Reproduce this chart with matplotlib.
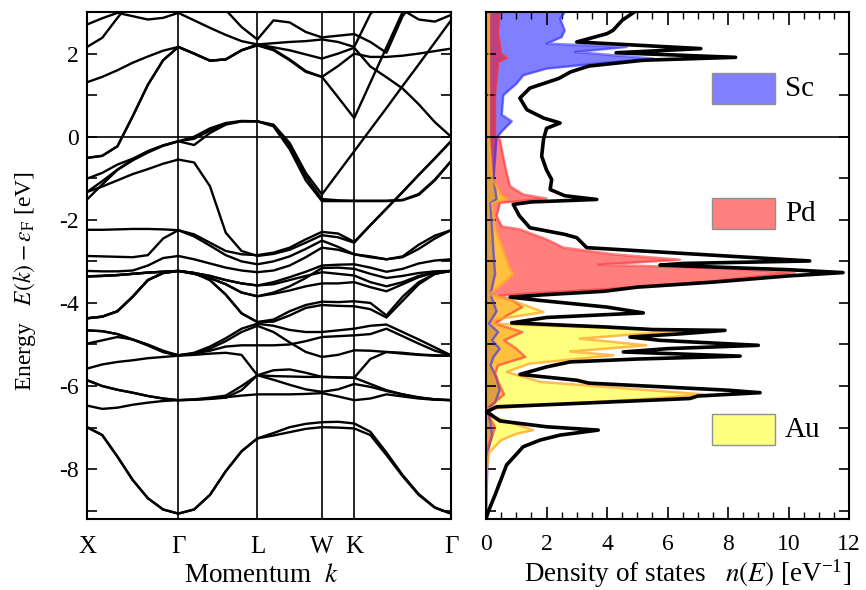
import numpy as np
import matplotlib
matplotlib.use("Agg")
import matplotlib.pyplot as plt
import matplotlib.ticker as ticker
from matplotlib.patches import Rectangle

plt.rcParams["font.family"] = ["Liberation Serif", "DejaVu Serif"]
plt.rcParams["mathtext.fontset"] = "stix"
plt.rcParams["axes.unicode_minus"] = False

# k-path X-G-L-W-K-G (fcc, units of 2pi/a) and samples per segment
SEG_LENGTHS = [1.0, np.sqrt(3) / 2, np.sqrt(2) / 2, np.sqrt(2) / 4, 3 * np.sqrt(2) / 4]
SEG_SAMPLES = [6, 5, 4, 2, 6]
KPOINT_LABELS = ["X", "Γ", "L", "W", "K", "Γ"]

# band energies [eV] at the sampled k-points
BANDS_LOW = [
    [-6.99, -7.18, -7.70, -8.26, -8.70, -8.97, -9.07, -8.97, -8.62, -8.05, -7.57, -7.26,
     -7.19, -7.11, -7.03, -6.99, -7.00, -7.02, -7.18, -7.66, -8.17, -8.62, -8.93, -9.07],
    [-6.99, -7.18, -7.70, -8.26, -8.70, -8.97, -9.07, -8.97, -8.62, -8.05, -7.57, -7.26,
     -7.13, -6.99, -6.91, -6.87, -6.86, -6.90, -7.10, -7.60, -8.14, -8.60, -8.92, -9.07],
]
BANDS_SEMICORE = [
    [-6.47, -6.55, -6.52, -6.45, -6.40, -6.36, -6.34, -6.33, -6.30, -6.27, -6.23, -6.20,
     -6.20, -6.20, -6.19, -6.17, -6.25, -6.34, -6.30, -6.20, -6.25, -6.30, -6.33, -6.34],
    [-5.86, -6.00, -6.09, -6.16, -6.24, -6.30, -6.34, -6.32, -6.28, -6.23, -6.00, -5.74,
     -5.85, -5.97, -6.08, -6.14, -6.08, -5.95, -6.02, -6.12, -6.20, -6.27, -6.32, -6.34],
    [-5.58, -5.48, -5.42, -5.38, -5.33, -5.30, -5.27, -5.25, -5.22, -5.20, -5.25, -5.74,
     -5.62, -5.60, -5.68, -5.78, -5.79, -5.80, -5.35, -5.18, -5.20, -5.24, -5.26, -5.27],
    [-5.86, -6.00, -6.09, -6.16, -6.24, -6.30, -6.34, -6.33, -6.31, -6.28, -6.10, -5.74,
     -5.76, -5.77, -5.78, -5.78, -5.79, -5.80, -5.95, -6.10, -6.20, -6.28, -6.32, -6.34],
    [-4.66, -4.68, -4.75, -4.88, -5.02, -5.18, -5.26, -5.20, -5.05, -4.85, -4.62, -4.50,
     -4.55, -4.65, -4.70, -4.70, -4.66, -4.62, -4.55, -4.52, -4.70, -4.88, -5.07, -5.26],
    [-4.98, -4.90, -4.82, -4.88, -5.00, -5.15, -5.26, -5.22, -5.10, -4.92, -4.70, -4.55,
     -4.70, -4.95, -5.18, -5.30, -5.25, -5.14, -5.15, -5.18, -5.22, -5.25, -5.27, -5.27],
    [-4.66, -4.68, -4.75, -4.88, -5.02, -5.18, -5.26, -5.22, -5.15, -5.05, -5.02, -5.02,
     -5.02, -5.00, -4.92, -4.82, -4.80, -4.78, -4.75, -4.62, -4.80, -4.98, -5.15, -5.26],
]
BANDS_D = [
    [-2.24, -2.24, -2.23, -2.22, -2.22, -2.23, -2.25, -2.35, -2.55, -2.75, -2.83, -2.85,
     -2.79, -2.67, -2.47, -2.29, -2.33, -2.53, -2.13, -1.73, -1.33, -0.92, -0.52, -0.11],
    [-2.87, -2.88, -2.89, -2.90, -2.85, -2.45, -2.25, -2.40, -2.62, -2.85, -3.00, -3.07,
     -3.00, -2.88, -2.70, -2.50, -2.65, -2.83, -2.90, -2.95, -2.88, -2.60, -2.38, -2.25],
    [-3.23, -3.24, -3.24, -3.22, -3.10, -2.92, -2.87, -2.95, -3.05, -3.15, -3.22, -3.26,
     -3.22, -3.10, -2.90, -2.67, -2.72, -2.83, -2.88, -2.95, -2.90, -2.70, -2.45, -2.25],
    [-3.36, -3.35, -3.33, -3.30, -3.27, -3.25, -3.23, -3.28, -3.35, -3.45, -3.53, -3.58,
     -3.50, -3.38, -3.25, -3.10, -3.08, -3.07, -3.15, -3.25, -3.18, -3.05, -2.98, -2.95],
    [-3.36, -3.35, -3.33, -3.30, -3.27, -3.25, -3.23, -3.30, -3.40, -3.55, -3.75, -3.84,
     -3.75, -3.60, -3.40, -3.16, -3.15, -3.18, -3.30, -3.40, -3.35, -3.28, -3.24, -3.23],
    [-1.33, -1.20, -1.05, -0.90, -0.78, -0.65, -0.55, -0.62, -1.19, -2.31, -2.75, -2.87,
     -2.82, -2.72, -2.55, -2.37, -2.42, -2.55, -2.13, -1.73, -1.33, -0.92, -0.52, -0.11],
    [-3.36, -3.35, -3.33, -3.30, -3.27, -3.25, -3.23, -3.28, -3.35, -3.45, -3.53, -3.58,
     -3.55, -3.45, -3.35, -3.26, -3.30, -3.34, -3.50, -3.60, -3.50, -3.35, -3.26, -3.23],
    [-4.37, -4.33, -4.20, -3.85, -3.45, -3.28, -3.23, -3.30, -3.40, -3.55, -3.75, -3.84,
     -3.78, -3.70, -3.60, -3.53, -3.53, -3.50, -3.62, -3.72, -3.55, -3.38, -3.27, -3.23],
    [-4.37, -4.33, -4.20, -3.85, -3.45, -3.28, -3.23, -3.28, -3.45, -3.80, -4.25, -4.46,
     -4.40, -4.20, -4.05, -3.97, -3.98, -3.96, -4.00, -4.30, -3.85, -3.50, -3.30, -3.23],
    [-4.37, -4.33, -4.20, -3.85, -3.45, -3.28, -3.23, -3.28, -3.45, -3.80, -4.25, -4.46,
     -4.45, -4.30, -4.12, -4.05, -4.07, -4.08, -4.15, -4.35, -3.95, -3.55, -3.30, -3.23],
]
BANDS_FERMI = [
    [-1.01, -0.87, -0.67, -0.53, -0.35, -0.21, -0.11, -0.20, 0.09, 0.29, 0.37, 0.37,
     0.29, -0.15, -0.87, -1.39, -0.87, -0.35, 0.17, 0.69, 1.22, 1.74, 2.27, 2.80],
    [-1.33, -1.07, -0.79, -0.55, -0.35, -0.21, -0.11, 0.00, 0.20, 0.33, 0.38, 0.37,
     0.25, -0.30, -1.05, -1.55, -1.55, -1.55, -1.55, -1.55, -1.53, -1.40, -1.05, -0.59],
    [-1.51, -1.15, -0.80, -0.57, -0.38, -0.22, -0.11, -0.05, 0.15, 0.31, 0.37, 0.37,
     0.27, -0.22, -0.95, -1.50, -1.53, -1.54, -1.54, -1.54, -1.52, -1.38, -1.03, -0.59],
    [-0.51, -0.46, -0.23, 0.49, 1.25, 1.84, 2.16, 2.00, 1.83, 1.86, 2.08, 2.20,
     2.08, 1.84, 1.56, 1.44, 1.70, 2.00, 1.92, 1.92, 1.95, 2.00, 2.06, 2.12],
    [1.31, 1.44, 1.60, 1.78, 1.93, 2.07, 2.16, 2.00, 1.83, 1.86, 2.08, 2.22,
     2.15, 2.08, 1.98, 1.88, 2.00, 2.14, 1.69, 1.43, 1.16, 0.78, 0.35, 0.00],
    [-0.51, -0.46, -0.23, 0.49, 1.25, 1.84, 2.16, 2.00, 1.83, 1.86, 2.08, 2.20,
     2.10, 1.86, 1.58, 1.44, 0.95, 0.45, 1.30, 2.15, 3.00, 3.50, 3.50, 3.50],
]
BANDS_HIGH = [
    [2.16, 2.38, 2.86, 3.30, 3.40, 3.40, 3.40, 3.40, 3.40, 3.05, 2.64, 2.34,
     2.80, 2.75, 2.52, 2.39, 2.43, 2.47, 2.28, 2.02, 2.90, 3.40, 3.40, 3.40],
    [2.70, 2.85, 2.98, 2.90, 2.82, 2.86, 2.98, 2.80, 2.62, 2.45, 2.30, 2.22,
     2.25, 2.28, 2.30, 2.34, 2.28, 2.16, 2.95, 3.40, 3.40, 3.40, 3.40, 3.40],
    [3.40, 3.40, 3.40, 3.40, 3.40, 3.40, 3.40, 3.40, 3.40, 3.40, 3.40, 3.40,
     3.40, 3.40, 3.40, 3.40, 3.40, 3.40, 3.40, 3.40, 3.05, 2.82, 2.77, 2.93],
]

# density of states [1/eV]
TOTAL_E = [3.0, 2.8, 2.56, 2.48, 2.28, 2.12, 2.02, 1.91, 1.84, 1.7, 1.56, 1.4, 1.17, 0.93,
           0.65, 0.45, 0.33, 0.2, -0.07, -0.47, -0.8, -1.03, -1.27, -1.42, -1.51, -1.57,
           -1.63, -1.9, -2.19, -2.35, -2.43, -2.67, -2.99, -3.05, -3.09, -3.2, -3.27, -3.35,
           -3.5, -3.62, -3.72, -3.8, -3.86, -3.94, -4.1, -4.24, -4.35, -4.48, -4.58, -4.64,
           -4.66, -4.74, -4.82, -4.9, -5.02, -5.1, -5.18, -5.28, -5.35, -5.42, -5.54, -5.72,
           -5.86, -5.93, -6.1, -6.16, -6.24, -6.3, -6.45, -6.5, -6.62, -6.84, -6.98, -7.06,
           -7.18, -7.3, -7.46, -7.9, -8.62, -9.01, -9.2]
TOTAL_N = [4.9, 4.5, 4.2, 4.0, 3.0, 7.1, 4.3, 8.25, 5.2, 3.4, 2.8, 2.4, 1.45, 1.12,
           1.35, 1.9, 2.45, 2.0, 1.9, 1.84, 2.0, 2.17, 2.12, 2.6, 3.66, 1.5,
           0.9, 1.1, 1.45, 2.6, 3.0, 3.33, 10.7, 6.5, 5.75, 10.0, 11.8, 10.0,
           7.5, 5.0, 3.9, 2.0, 0.8, 1.79, 4.0, 5.2, 2.0, 0.85, 4.0, 5.5,
           7.9, 6.5, 4.76, 5.75, 9.0, 6.0, 4.54, 8.4, 5.0, 2.78, 2.0, 1.12,
           3.0, 3.4, 8.0, 9.06, 7.0, 6.74, 2.0, 0.35, 0.02, 0.46, 2.0, 3.71,
           2.45, 1.79, 1.23, 0.68, 0.3, 0.08, 0.0]

SC_E = [3.0, 2.84, 2.56, 2.4, 2.24, 2.16, 2.04, 1.88, 1.76, 1.64, 1.48, 1.28, 1.0, 0.53,
        0.37, 0.13, -0.03, -0.5, -1.0, -1.5, -1.6, -2.2, -2.8, -3.3, -3.8, -4.2, -4.5,
        -4.7, -4.9, -5.1, -5.3, -5.5, -5.8, -6.1, -6.4, -6.55, -6.9, -7.2, -7.6, -9.2]
SC_N = [2.6, 2.45, 2.6, 2.5, 2.0, 4.65, 2.94, 5.53, 3.66, 2.0, 1.23, 1.01, 0.57, 0.52,
        0.85, 0.52, 0.35, 0.3, 0.25, 0.35, 0.15, 0.2, 0.25, 0.3, 0.15, 0.35, 0.1,
        0.4, 0.2, 0.45, 0.25, 0.15, 0.35, 0.45, 0.3, 0.05, 0.15, 0.2, 0.05, 0.0]

PD_E = [3.0, 2.5, 2.0, 1.9, 1.8, 1.0, 0.0, -0.07, -0.71, -1.19, -1.39, -1.49, -1.59, -1.91,
        -2.16, -2.23, -2.47, -2.67, -2.83, -2.96, -3.08, -3.17, -3.27, -3.4, -3.5, -3.66,
        -3.74, -3.82, -3.95, -4.1, -4.3, -4.5, -4.7, -4.9, -5.1, -5.3, -5.5, -5.7, -5.9,
        -6.2, -6.5, -6.6, -7.0, -7.5, -9.2]
PD_N = [0.45, 0.4, 0.5, 0.7, 0.4, 0.3, 0.3, 0.46, 0.63, 0.79, 1.23, 2.0, 0.46, 0.35,
        0.52, 1.12, 2.0, 2.56, 4.21, 6.41, 3.7, 8.0, 10.2, 8.5, 7.2, 4.1,
        2.2, 0.46, 0.9, 1.2, 0.7, 0.3, 1.2, 0.6, 1.0, 1.3, 0.4, 0.3, 0.4,
        0.6, 0.1, 0.02, 0.3, 0.05, 0.0]

AU_E = [3.0, 0.0, -1.0, -1.4, -1.5, -1.6, -2.2, -2.8, -3.2, -3.3, -3.5, -3.8, -3.95, -4.22,
        -4.4, -4.5, -4.6, -4.66, -4.75, -4.86, -5.02, -5.17, -5.26, -5.46, -5.66, -5.9,
        -6.05, -6.2, -6.3, -6.45, -6.55, -6.75, -6.9, -7.06, -7.15, -7.3, -7.6, -8.0, -9.2]
AU_N = [0.1, 0.1, 0.2, 0.5, 0.7, 0.2, 0.3, 0.6, 0.8, 0.9, 0.6, 0.1, 0.9, 1.9,
        0.3, 0.2, 4.0, 6.6, 5.0, 3.1, 5.3, 2.78, 4.21, 1.45, 0.68, 1.79,
        4.5, 7.18, 5.5, 2.0, 0.02, 0.3, 0.9, 1.56, 1.0, 0.5, 0.1, 0.02, 0.0]

E_MIN, E_MAX = -9.2, 3.0

# cumulative k of every sample and of the high-symmetry points
k_samples = [0.0]
k_marks = [0.0]
for length, n in zip(SEG_LENGTHS, SEG_SAMPLES):
    start = k_marks[-1]
    k_samples += [start + length * i / n for i in range(1, n + 1)]
    k_marks.append(start + length)

fig = plt.figure(figsize=(8.66, 5.90), dpi=100)
ax_b = fig.add_axes([0.1005, 0.1203, 0.4203, 0.8593])
ax_d = fig.add_axes([0.5612, 0.1203, 0.4192, 0.8593])

# band structure
for group in (BANDS_LOW, BANDS_SEMICORE, BANDS_D, BANDS_FERMI, BANDS_HIGH):
    for band in group:
        ax_b.plot(k_samples, band, color="black", lw=1.7, solid_joinstyle="round")
for k in k_marks[1:-1]:
    ax_b.axvline(k, color="black", lw=1.2)
ax_b.axhline(0, color="black", lw=1.2)

ax_b.set_xlim(k_marks[0], k_marks[-1])
ax_b.set_ylim(E_MIN, E_MAX)
ax_b.set_xticks(k_marks)
ax_b.set_xticklabels(KPOINT_LABELS, fontsize=18)
ax_b.yaxis.set_major_locator(ticker.MultipleLocator(2))
ax_b.yaxis.set_minor_locator(ticker.MultipleLocator(1))
ax_b.yaxis.set_major_formatter(ticker.FuncFormatter(lambda v, p: f"{v:.0f}"))
ax_b.tick_params(axis="x", length=0, pad=12)
ax_b.tick_params(axis="y", which="both", direction="in", left=True, right=True,
                 length=7, width=1.2, labelsize=17, pad=6)
ax_b.set_xlabel(r"Momentum  $k$", fontsize=19.5, va="baseline")
ax_b.xaxis.set_label_coords(0.48, -0.124)
ax_b.set_ylabel(r"Energy   $E(k) - \varepsilon_{\mathrm{F}}$ [eV]", fontsize=17)
ax_b.yaxis.set_label_coords(-0.135, 0.47)

# projected and total density of states
species = [(SC_E, SC_N, (0, 0, 1, 0.5), (0.2, 0.2, 1, 0.6)),
           (PD_E, PD_N, (1, 0, 0, 0.5), (1, 0.2, 0.2, 0.6)),
           (AU_E, AU_N, (1, 1, 0, 0.5), (1, 0.65, 0.15, 0.75))]
for e, n, face, edge in species:
    ax_d.fill_betweenx(e, 0, n, color=face, lw=0)
    ax_d.plot(n, e, color=edge, lw=1.8)
ax_d.plot(TOTAL_N, TOTAL_E, color="black", lw=2.6, solid_joinstyle="round")
ax_d.axhline(0, color="black", lw=1.2)

ax_d.set_xlim(0, 12)
ax_d.set_ylim(E_MIN, E_MAX)
ax_d.xaxis.set_major_locator(ticker.MultipleLocator(2))
ax_d.xaxis.set_minor_locator(ticker.MultipleLocator(0.5))
ax_d.yaxis.set_major_locator(ticker.MultipleLocator(1))
ax_d.tick_params(axis="x", which="major", direction="in", top=True, bottom=True,
                 length=9, width=1.2, labelsize=17, pad=11)
ax_d.tick_params(axis="x", which="minor", direction="in", top=True, bottom=True,
                 length=5, width=1.0)
ax_d.tick_params(axis="y", direction="in", left=True, right=True, length=7,
                 width=1.2, labelleft=False)
ax_d.set_xlabel(r"Density of states   $n(E)$ [eV$^{\mathregular{-1}}$]", fontsize=19.5,
                va="baseline")
ax_d.xaxis.set_label_coords(0.555, -0.124)

# legend boxes
legend_items = [("Sc", "#8080ff", 0.8185), ("Pd", "#ff8080", 0.572), ("Au", "#ffff80", 0.146)]
for name, color, y0 in legend_items:
    ax_d.add_patch(Rectangle((0.623, y0), 0.174, 0.061, transform=ax_d.transAxes,
                             facecolor=color, edgecolor="#909090", lw=1.0))
    ax_d.text(0.824, y0 + 0.0305, name, transform=ax_d.transAxes, fontsize=21,
              va="center", ha="left")

for ax in (ax_b, ax_d):
    for spine in ax.spines.values():
        spine.set_linewidth(1.5)

fig.savefig("out.png", dpi=100)
